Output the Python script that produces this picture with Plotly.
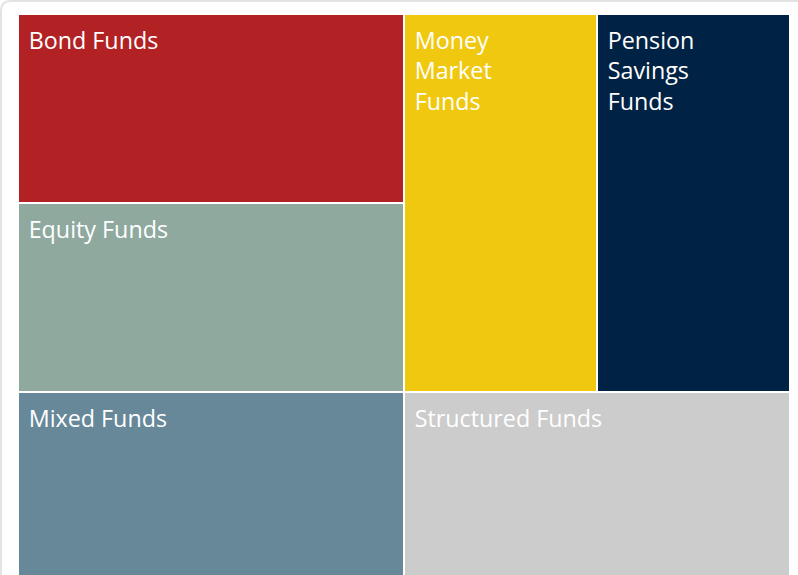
import plotly.graph_objects as go

categories = ["Bond Funds", "Equity Funds", "Mixed Funds",
              "Money Market Funds", "Pension Savings Funds", "Structured Funds"]
text_lines = [["Bond Funds"], ["Equity Funds"], ["Mixed Funds"],
              ["Money", "Market", "Funds"], ["Pension", "Savings", "Funds"],
              ["Structured Funds"]]
values = [1, 1, 1, 1, 1, 1]
colors = ["#B22224", "#8FA99F", "#668899", "#F0C810", "#002244", "#CCCCCC"]

W, H = 798, 590
ML, MR, MT, MB = 18, 8, 14, 9

lead = "<span style='font-size:29.5px'>&nbsp;</span>"
display_text = ["<br>".join(lead + ln for ln in lines) for lines in text_lines]

fig = go.Figure(go.Treemap(
    labels=categories,
    parents=[""] * len(categories),
    values=values,
    text=display_text,
    texttemplate="%{text}",
    textposition="top left",
    textfont=dict(family="Open Sans", size=23.3, color="#FFFFFF"),
    marker=dict(colors=colors, line=dict(color="#FFFFFF", width=2),
                pad=dict(t=0, l=0, r=0, b=0)),
    tiling=dict(packing="squarify", squarifyratio=2, pad=0),
    pathbar=dict(visible=False),
    sort=False,
    hoverinfo="skip",
))

pw = W - ML - MR
ph = H - MT - MB
def px(x):
    return (x - ML) / pw
def py(y):
    return 1 - (y - MT) / ph

r = 10
path = (f"M {px(1)},{py(H + 5)} L {px(1)},{py(1 + r)} "
        f"Q {px(1)},{py(1)} {px(1 + r)},{py(1)} L {px(W + 20)},{py(1)}")

fig.update_layout(
    width=W, height=H,
    margin=dict(l=ML, r=MR, t=MT, b=MB),
    paper_bgcolor="#FFFFFF",
    shapes=[dict(type="path", xref="paper", yref="paper", path=path,
                 line=dict(color="#E3E3E3", width=2), layer="below")],
)

fig.write_html("out.html", config={"displayModeBar": False},
               post_script="document.body.style.margin='0';")
